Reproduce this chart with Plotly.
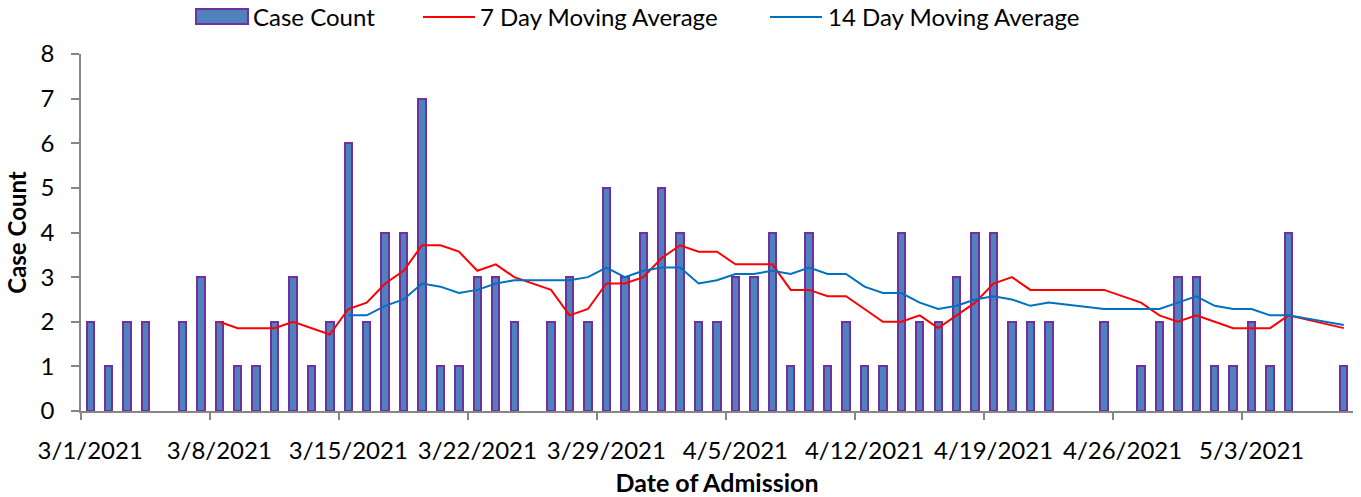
import plotly.graph_objects as go

# ---- data ----
dates = [
    "2021-03-01", "2021-03-02", "2021-03-03", "2021-03-04", "2021-03-06", "2021-03-07",
    "2021-03-08", "2021-03-09", "2021-03-10", "2021-03-11", "2021-03-12", "2021-03-13",
    "2021-03-14", "2021-03-15", "2021-03-16", "2021-03-17", "2021-03-18", "2021-03-19",
    "2021-03-20", "2021-03-21", "2021-03-22", "2021-03-23", "2021-03-24", "2021-03-26",
    "2021-03-27", "2021-03-28", "2021-03-29", "2021-03-30", "2021-03-31", "2021-04-01",
    "2021-04-02", "2021-04-03", "2021-04-04", "2021-04-05", "2021-04-06", "2021-04-07",
    "2021-04-08", "2021-04-09", "2021-04-10", "2021-04-11", "2021-04-12", "2021-04-13",
    "2021-04-14", "2021-04-15", "2021-04-16", "2021-04-17", "2021-04-18", "2021-04-19",
    "2021-04-20", "2021-04-21", "2021-04-22", "2021-04-25", "2021-04-27", "2021-04-28",
    "2021-04-29", "2021-04-30", "2021-05-01", "2021-05-02", "2021-05-03", "2021-05-04",
    "2021-05-05", "2021-05-08",
]
case_count = [
    2, 1, 2, 2, 2, 3, 2, 1, 1, 2, 3, 1, 2, 6, 2, 4, 4, 7, 1, 1, 3, 3, 2, 2, 3, 2, 5, 3, 4,
    5, 4, 2, 2, 3, 3, 4, 1, 4, 1, 2, 1, 1, 4, 2, 2, 3, 4, 4, 2, 2, 2, 2, 1, 2, 3, 3,
    1, 1, 2, 1, 4, 1,
]
ma7 = [
    None, None, None, None, None, None,
    2.000, 1.857, 1.857, 1.857, 2.000, 1.857, 1.714, 2.286, 2.429, 2.857, 3.143, 3.714,
    3.714, 3.571, 3.143, 3.286, 3.000, 2.714, 2.143, 2.286, 2.857, 2.857, 3.000, 3.429,
    3.714, 3.571, 3.571, 3.286, 3.286, 3.286, 2.714, 2.714, 2.571, 2.571, 2.286, 2.000,
    2.000, 2.143, 1.857, 2.143, 2.429, 2.857, 3.000, 2.714, 2.714, 2.714, 2.429, 2.143,
    2.000, 2.143, 2.000, 1.857, 1.857, 1.857, 2.143, 1.857,
]
ma14 = [
    None, None, None, None, None, None, None, None, None, None, None, None, None,
    2.143, 2.143, 2.357, 2.500, 2.857, 2.786, 2.643, 2.714, 2.857, 2.929, 2.929, 2.929,
    3.000, 3.214, 3.000, 3.143, 3.214, 3.214, 2.857, 2.929, 3.071, 3.071, 3.143, 3.071,
    3.214, 3.071, 3.071, 2.786, 2.643, 2.643, 2.429, 2.286, 2.357, 2.500, 2.571, 2.500,
    2.357, 2.429, 2.286, 2.286, 2.286, 2.429, 2.571, 2.357, 2.286, 2.286, 2.143, 2.143,
    1.929,
]
tick_dates = ["2021-03-01", "2021-03-08", "2021-03-15", "2021-03-22", "2021-03-29",
              "2021-04-05", "2021-04-12", "2021-04-19", "2021-04-26", "2021-05-03"]
tick_labels = ["3/1/2021", "3/8/2021", "3/15/2021", "3/22/2021", "3/29/2021",
               "4/5/2021", "4/12/2021", "4/19/2021", "4/26/2021", "5/3/2021"]
boundary_ticks = ["2021-02-28 12:00", "2021-03-07 12:00", "2021-03-14 12:00",
                  "2021-03-21 12:00", "2021-03-28 12:00", "2021-04-04 12:00",
                  "2021-04-11 12:00", "2021-04-18 12:00", "2021-04-25 12:00",
                  "2021-05-02 12:00"]

FONT = "Lato"
BAR_FILL = "#4F81BD"
BAR_EDGE = "#7030A0"
RED = "#FF0000"
BLUE = "#0070C0"
AXIS = "#868686"
DAY_MS = 86400000

fig = go.Figure()
fig.add_trace(go.Bar(x=dates, y=case_count, name="Case Count",
                     width=0.4 * DAY_MS,
                     marker=dict(color=BAR_FILL, line=dict(color=BAR_EDGE, width=2)),
                     showlegend=False))
fig.add_trace(go.Scatter(x=dates, y=ma7, name="7 Day Moving Average", mode="lines",
                         line=dict(color=RED, width=2), connectgaps=False, showlegend=False))
fig.add_trace(go.Scatter(x=dates, y=ma14, name="14 Day Moving Average", mode="lines",
                         line=dict(color=BLUE, width=2), connectgaps=False, showlegend=False))

L, R, T, B = 81, 8, 54, 86
W, H = 1361, 497
pw, ph = W - L - R, H - T - B


def px_x(px):
    return (px - L) / pw


def px_y(py):
    return (H - B - py) / ph


shapes = [
    dict(type="rect", xref="paper", yref="paper", x0=px_x(196), x1=px_x(248),
         y0=px_y(24), y1=px_y(9), fillcolor=BAR_FILL, line=dict(color=BAR_EDGE, width=2)),
    dict(type="line", xref="paper", yref="paper", x0=px_x(423), x1=px_x(475),
         y0=px_y(17), y1=px_y(17), line=dict(color=RED, width=2)),
    dict(type="line", xref="paper", yref="paper", x0=px_x(770), x1=px_x(822),
         y0=px_y(17), y1=px_y(17), line=dict(color=BLUE, width=2)),
]
annotations = [
    dict(text="Case Count", x=px_x(251), y=px_y(17)),
    dict(text="7 Day Moving Average", x=px_x(478), y=px_y(17)),
    dict(text="14 Day Moving Average", x=px_x(826), y=px_y(17)),
]
annotations = [dict(a, xref="paper", yref="paper", xanchor="left", yanchor="middle",
                    showarrow=False, font=dict(family=FONT, size=24, color="#000000"))
               for a in annotations]

fig.update_layout(
    width=W, height=H,
    margin=dict(l=L, r=R, t=T, b=B, autoexpand=False),
    paper_bgcolor="white", plot_bgcolor="white",
    font=dict(family=FONT, size=24, color="#000000"),
    bargap=0,
    shapes=shapes,
    annotations=annotations,
    showlegend=False,
)
fig.update_xaxes(
    type="date",
    range=["2021-02-28 12:00", "2021-05-08 12:00"],
    tickmode="array", tickvals=tick_dates, ticktext=tick_labels,
    ticks="", ticklabelstandoff=17,
    tickfont=dict(family=FONT, size=24),
    minor=dict(tickmode="array", tickvals=boundary_ticks, ticks="outside",
               ticklen=7, tickwidth=1.5, tickcolor=AXIS, showgrid=False),
    showline=True, linecolor=AXIS, linewidth=1.5,
    showgrid=False, zeroline=False,
    title=dict(text="<b>Date of Admission</b>", font=dict(family=FONT, size=25), standoff=18),
)
fig.update_yaxes(
    range=[0, 8], tickmode="linear", tick0=0, dtick=1,
    ticks="outside", ticklen=8, tickwidth=1.5, tickcolor=AXIS,
    ticklabelstandoff=12,
    tickfont=dict(family=FONT, size=24),
    showline=True, linecolor=AXIS, linewidth=1.5,
    showgrid=False, zeroline=False,
    title=dict(text="<b>Case Count</b>", font=dict(family=FONT, size=24), standoff=7),
)

fig.write_html("out.html", config={"displayModeBar": False},
               post_script="document.body.style.margin='0px';")
